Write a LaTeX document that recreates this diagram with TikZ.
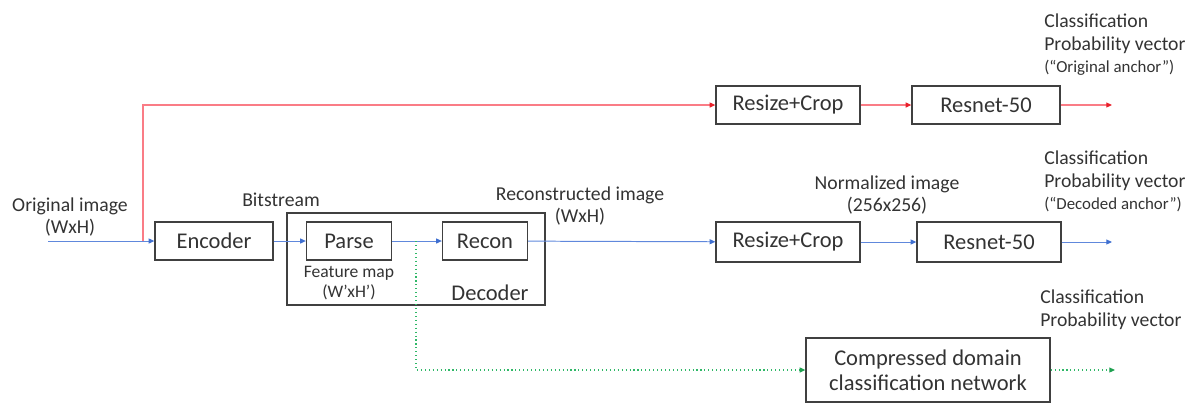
\documentclass[tikz,border=0pt]{standalone}
\usepackage{fontspec}
\setmainfont{Carlito}
\usetikzlibrary{positioning,arrows.meta}
\definecolor{txtgray}{HTML}{333333}
\definecolor{redline}{HTML}{FA7C86}
\definecolor{redtip}{HTML}{E8202A}
\definecolor{blueline}{HTML}{6088DC}
\definecolor{bluetip}{HTML}{3F6FD0}
\definecolor{greenline}{HTML}{30B868}
\definecolor{greentip}{HTML}{1FA050}

\begin{document}
\begin{tikzpicture}[x=0.025cm,y=-0.025cm,
  every node/.style={text=txtgray},
  blk/.style={draw=black!75, line width=0.9pt, inner sep=0pt, minimum height=0.95cm,
    font=\fontsize{16}{18}\selectfont},
  lbl/.style={font=\fontsize{14}{16}\selectfont, align=center, inner sep=0pt},
  redflow/.style={draw=redline, line width=0.75pt, -{Triangle[length=4pt,width=3.5pt,fill=redtip,color=redtip]}},
  blueflow/.style={draw=blueline, line width=0.7pt, -{Triangle[length=4pt,width=3.5pt,fill=bluetip,color=bluetip]}},
  greenflow/.style={draw=greenline, line width=0.8pt, dotted, -{Triangle[length=4pt,width=3.5pt,fill=greentip,color=greentip]}}]

  \useasboundingbox (0,0) rectangle (1202,404);

  %% decoder frame first, boxes on top
  \node[blk, minimum width=6.45cm, minimum height=2.3cm] (dec) at (416,259) {};
  \node[lbl, font=\fontsize{16}{18}\selectfont] (declbl) at (490,293) {Decoder};

  %% main blocks
  \node[blk, minimum width=2.95cm] (enc) at (214,241) {Encoder};
  \node[blk, minimum width=2.125cm] (parse) at (349,241) {Parse};
  \node[blk, minimum width=2.125cm] (recon) at (485,241) {Recon};
  \node[blk, minimum width=3.6cm, minimum height=1cm] (rcdec) at (788,242) {Resize+Crop};
  \node[blk, minimum width=3.6cm, minimum height=1cm] (rndec) at (989,242) {Resnet-50};
  \node[blk, minimum width=3.6cm] (rcorg) at (788,105) {Resize+Crop};
  \node[blk, minimum width=3.7cm] (rnorg) at (986,105) {Resnet-50};
  \node[blk, minimum width=6.1cm, minimum height=1.6cm, align=center] (cdn) at (928,370)
    {Compressed domain\\classification network};

  %% free ends
  \coordinate (in) at (48,241);
  \coordinate (split) at (143,241);
  \coordinate (tap) at (416,241);
  \coordinate (out1) at (1112,105);
  \coordinate (out2) at (1112,242);
  \coordinate (out3) at (1115,370);

  %% labels
  \node[lbl] (lorig) at (70,217) {Original image\\(WxH)};
  \node[lbl] (lbits) at (281,200) {Bitstream};
  \node[lbl, font=\fontsize{12.5}{14.5}\selectfont] (lfeat) at (349,283) {Feature map\\(W’xH’)};
  \node[lbl] (lrec) at (580,206) {Reconstructed image\\(WxH)};
  \node[lbl] (lnorm) at (887,195) {Normalized image\\(256x256)};
  \node[lbl, anchor=north west, align=left] (cls1) at (1044,14)
    {Classification\\Probability vector\\{\fontsize{12}{14}\selectfont(“Original anchor”)}};
  \node[lbl, anchor=north west, align=left] (cls2) at (1044,151)
    {Classification\\Probability vector\\{\fontsize{12}{14}\selectfont(“Decoded anchor”)}};
  \node[lbl, anchor=north west, align=left] (cls3) at (1040,290)
    {Classification\\Probability vector};

  %% decoded path (blue)
  \draw[blueflow] (in) -- (enc);
  \draw[blueflow] (enc) -- (parse);
  \draw[blueflow] (parse) -- (recon);
  \draw[blueflow] (recon) -- (rcdec);
  \draw[blueflow] (rcdec) -- (rndec);
  \draw[blueflow] (rndec) -- (out2);

  %% original anchor (red)
  \draw[redflow] (split) |- (rcorg);
  \draw[redflow] (rcorg) -- (rnorg);
  \draw[redflow] (rnorg) -- (out1);

  %% compressed domain (green)
  \draw[greenflow] (tap) |- (cdn);
  \draw[greenflow] (cdn) -- (out3);
\end{tikzpicture}
\end{document}
